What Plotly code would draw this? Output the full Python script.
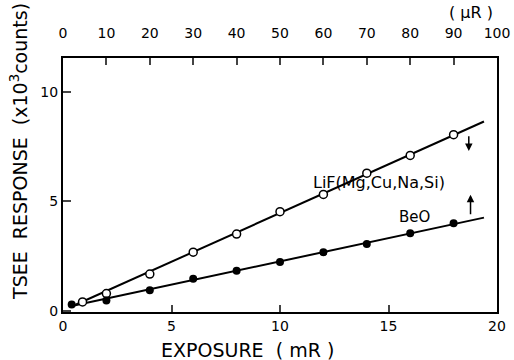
import plotly.graph_objects as go

# Data
lif_x = [0.9, 2, 4, 6, 8, 10, 12, 14, 16, 18]
lif_y = [0.41, 0.79, 1.68, 2.68, 3.51, 4.53, 5.32, 6.29, 7.10, 8.05]
beo_x = [0.4, 2, 4, 6, 8, 10, 12, 14, 16, 18]
beo_y = [0.29, 0.47, 0.94, 1.47, 1.83, 2.23, 2.68, 3.06, 3.55, 4.00]
lif_fit_x = [0.4, 19.4]
lif_fit_y = [0.20, 8.65]
beo_fit_x = [0.4, 19.4]
beo_fit_y = [0.22, 4.26]
x_ticks = [0, 5, 10, 15, 20]
y_ticks = [0, 5, 10]
top_ticks = [0, 10, 20, 30, 40, 50, 60, 70, 80, 90, 100]

FONT = "DejaVu Sans"
fig = go.Figure()
fig.add_trace(go.Scatter(x=lif_fit_x, y=lif_fit_y, mode="lines",
                         line=dict(color="black", width=2), showlegend=False))
fig.add_trace(go.Scatter(x=beo_fit_x, y=beo_fit_y, mode="lines",
                         line=dict(color="black", width=2), showlegend=False))
fig.add_trace(go.Scatter(x=lif_x, y=lif_y, mode="markers",
                         marker=dict(symbol="circle", size=8, color="white",
                                     line=dict(color="black", width=1.5)),
                         showlegend=False))
fig.add_trace(go.Scatter(x=beo_x, y=beo_y, mode="markers",
                         marker=dict(symbol="circle", size=8, color="black"),
                         showlegend=False))
# invisible trace for top axis
fig.add_trace(go.Scatter(x=[0, 100], y=[0, 0], xaxis="x2", mode="markers",
                         marker=dict(opacity=0), showlegend=False, hoverinfo="skip"))

fig.update_layout(
    width=514, height=360,
    margin=dict(l=63, r=17, t=58, b=48, autoexpand=False),
    plot_bgcolor="white", paper_bgcolor="white",
    font=dict(family=FONT, color="black", size=14),
    xaxis=dict(range=[0, 20], tickvals=x_ticks, ticks="inside", ticklen=7,
               tickwidth=1.5, showline=True, linewidth=2, linecolor="black",
               showgrid=False, zeroline=False, tickfont=dict(size=14),
               automargin=False),
    xaxis2=dict(range=[0, 100], tickvals=top_ticks, overlaying="x", side="top",
                ticks="inside", ticklen=7, tickwidth=1.5, showline=True,
                linewidth=2, linecolor="black", showgrid=False, zeroline=False,
                tickfont=dict(size=14), ticklabelstandoff=12, automargin=False),
    yaxis=dict(range=[-0.05, 11.55], tickvals=y_ticks, ticks="inside", ticklen=8,
               tickwidth=1.5, showline=True, linewidth=2, linecolor="black",
               mirror=True, showgrid=False, zeroline=False, tickfont=dict(size=14),
               automargin=False),
    showlegend=False,
)

fig.add_annotation(text="TSEE  RESPONSE  (x10<sup>3</sup>counts)", textangle=-90,
                   xref="paper", yref="paper", x=-0.10, y=0.04,
                   xanchor="center", yanchor="bottom", showarrow=False,
                   font=dict(size=19))
fig.add_annotation(text="EXPOSURE  ( mR )", xref="paper", yref="paper",
                   x=0.425, y=-0.15, xanchor="center", yanchor="middle",
                   showarrow=False, font=dict(size=19))
fig.add_annotation(text="( μR )", xref="paper", yref="paper", x=0.94, y=1.18,
                   xanchor="center", yanchor="middle", showarrow=False,
                   font=dict(size=16))
fig.add_annotation(text="LiF(Mg,Cu,Na,Si)", x=17.7, y=5.85, xref="x", yref="y",
                   xanchor="right", yanchor="middle", showarrow=False,
                   font=dict(size=16))
fig.add_annotation(text="BeO", x=16.2, y=4.3, xref="x", yref="y",
                   xanchor="center", yanchor="middle", showarrow=False,
                   font=dict(size=15))
# arrows
fig.add_annotation(x=18.7, y=7.3, ax=18.7, ay=8.05, xref="x", yref="y",
                   axref="x", ayref="y", showarrow=True, arrowhead=2,
                   arrowsize=1, arrowwidth=1.5, arrowcolor="black", text="")
fig.add_annotation(x=18.78, y=5.3, ax=18.78, ay=4.35, xref="x", yref="y",
                   axref="x", ayref="y", showarrow=True, arrowhead=2,
                   arrowsize=1, arrowwidth=1.5, arrowcolor="black", text="")

fig.write_html("out.html", config={"displayModeBar": False},
               post_script="document.body.style.margin='0';")
